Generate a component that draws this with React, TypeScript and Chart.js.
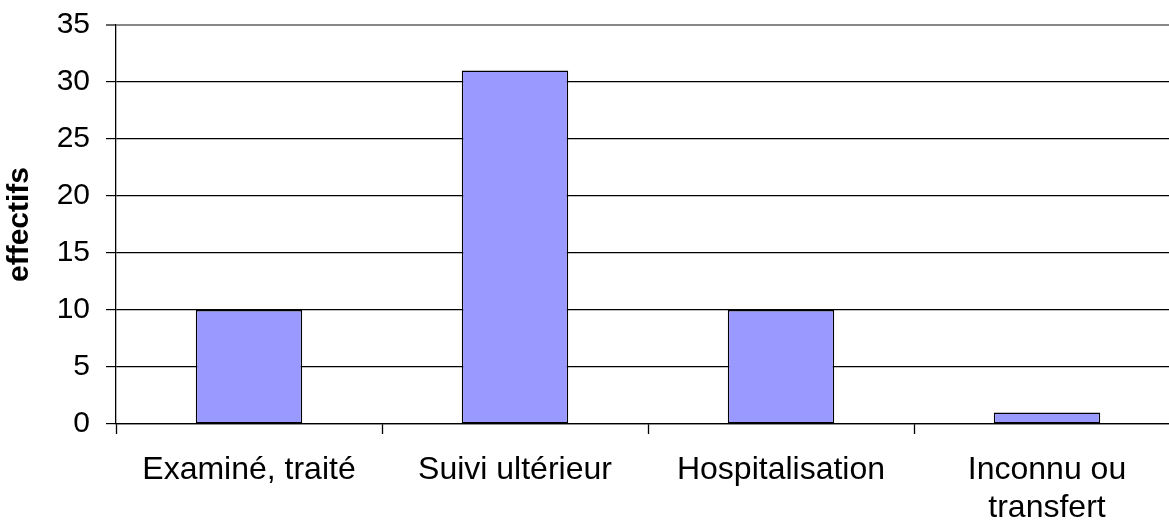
import React, { useEffect, useRef } from "react";
import { Chart, registerables } from "chart.js";

Chart.register(...registerables);

const categories: (string | string[])[] = [
  "Examiné, traité",
  "Suivi ultérieur",
  "Hospitalisation",
  ["Inconnu ou", "transfert"],
];
const values: number[] = [10, 31, 10, 1];
const yMin = 0;
const yMax = 35;
const yStep = 5;
const yTitle = "effectifs";

export default function App() {
  const ref = useRef<HTMLCanvasElement | null>(null);

  useEffect(() => {
    if (!ref.current) return;
    const font = "'Liberation Sans', Arial, sans-serif";
    const chart = new Chart(ref.current, {
      type: "bar",
      data: {
        labels: categories,
        datasets: [
          {
            data: values,
            backgroundColor: "#9999FF",
            borderColor: "#000000",
            borderWidth: 1.4,
            borderSkipped: false,
            categoryPercentage: 1,
            barPercentage: 0.4,
          },
        ],
      },
      options: {
        responsive: false,
        animation: false,
        devicePixelRatio: 1,
        layout: { padding: { top: 25, right: 20, left: 0, bottom: 0 } },
        plugins: {
          legend: { display: false },
          tooltip: { enabled: false },
        },
        scales: {
          x: {
            grid: {
              offset: true,
              drawOnChartArea: false,
              drawTicks: true,
              tickLength: 10,
              tickColor: "#000000",
              tickWidth: 1.3,
            },
            border: { color: "#000000", width: 1.3 },
            ticks: {
              color: "#000000",
              font: { family: font, size: 32, lineHeight: 1.2 },
              padding: 17,
              maxRotation: 0,
              autoSkip: false,
            },
            afterFit: (s: any) => {
              s.height = 100;
              s.paddingLeft = 0;
              s.paddingRight = 0;
            },
          },
          y: {
            min: yMin,
            max: yMax,
            grid: {
              color: (c: any) => (c.tick && c.tick.value === yMax ? "#888888" : "#000000"),
              lineWidth: (c: any) => (c.tick && c.tick.value === yMax ? 2 : 1.2),
              tickLength: 10,
              tickColor: "#000000",
              tickWidth: 1.2,
            },
            border: { color: "#000000", width: 1.3 },
            ticks: {
              stepSize: yStep,
              color: "#000000",
              font: { family: font, size: 30 },
              padding: 16,
            },
            title: {
              display: true,
              text: yTitle,
              color: "#000000",
              font: { family: font, size: 30, weight: "bold", lineHeight: 1.2 },
              padding: { top: 2, bottom: 0 },
            },
            afterFit: (s: any) => {
              s.width = 116;
              s.paddingTop = 0;
              s.paddingBottom = 0;
            },
          },
        },
      },
    });
    return () => chart.destroy();
  }, []);

  return (
    <div
      style={{
        position: "fixed",
        left: 0,
        top: 0,
        width: 1169,
        height: 524,
        overflow: "hidden",
        background: "#ffffff",
      }}
    >
      <canvas ref={ref} width={1200} height={524} style={{ display: "block" }} />
    </div>
  );
}
